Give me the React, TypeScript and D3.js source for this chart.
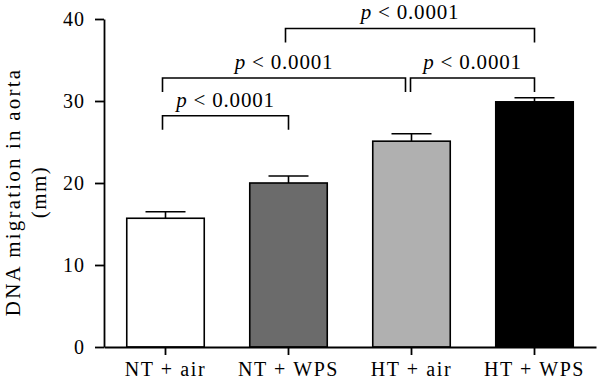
import * as d3 from 'd3';
import React, { useEffect, useRef } from 'react';

// groups, means and upper error values (mm)
const groups = ['NT + air', 'NT + WPS', 'HT + air', 'HT + WPS'];
const means = [15.7, 20.0, 25.1, 29.9];
const errors = [0.8, 0.85, 0.9, 0.5];
const fills = ['#ffffff', '#6b6b6b', '#b0b0b0', '#000000'];
const yTicks = [0, 10, 20, 30, 40];

// significance brackets: from group, to group, bracket height (axis units)
const bracketFrom = [0, 0, 2, 1];
const bracketTo = [1, 2, 3, 3];
const bracketLevel = [28.2, 32.8, 32.8, 38.85];
const bracketText = ['p < 0.0001', 'p < 0.0001', 'p < 0.0001', 'p < 0.0001'];

const W = 600, H = 384;
const margin = { top: 19, right: 4, bottom: 37, left: 104 };
const FONT = '"Liberation Serif", "Times New Roman", serif';

const App = () => {
    const chartArea = useRef<SVGSVGElement | null>(null);

    useEffect(() => {
        const svg = d3.select(chartArea.current);
        svg.selectAll('*').remove();

        const x = d3.scaleBand()
            .domain(groups)
            .range([margin.left, W - margin.right])
            .paddingInner(0.37)
            .paddingOuter(0.185);

        const y = d3.scaleLinear()
            .domain([0, 40])
            .range([H - margin.bottom, margin.top]);

        const cx = (i: number) => (x(groups[i]) as number) + x.bandwidth() / 2;

        // bars
        svg.append('g')
            .selectAll('rect')
            .data(means)
            .join('rect')
            .attr('x', (d, i) => x(groups[i]) as number)
            .attr('y', d => y(d))
            .attr('width', x.bandwidth())
            .attr('height', d => y(0) - y(d))
            .attr('fill', (d, i) => fills[i])
            .attr('stroke', '#000')
            .attr('stroke-width', 1.6);

        // error bars (upper only)
        const eb = svg.append('g').attr('stroke', '#000').attr('stroke-width', 1.6);
        means.forEach((m, i) => {
            eb.append('line')
                .attr('x1', cx(i)).attr('x2', cx(i))
                .attr('y1', y(m)).attr('y2', y(m + errors[i]));
            eb.append('line')
                .attr('x1', cx(i) - 20).attr('x2', cx(i) + 20)
                .attr('y1', y(m + errors[i])).attr('y2', y(m + errors[i]));
        });

        // y axis
        const yAxis = svg.append('g')
            .attr('transform', `translate(${margin.left},0)`)
            .call(d3.axisLeft(y).tickValues(yTicks).tickSize(9).tickPadding(10).tickSizeOuter(0));
        yAxis.selectAll('path, line').attr('stroke', '#000').attr('stroke-width', 1.8);
        yAxis.selectAll('text')
            .attr('font-family', FONT).attr('font-size', 20).attr('fill', '#000')
            .attr('letter-spacing', 1);

        // x axis
        const xAxis = svg.append('g')
            .attr('transform', `translate(0,${y(0)})`)
            .call(d3.axisBottom(x).tickSize(8).tickPadding(7).tickSizeOuter(0));
        xAxis.selectAll('path, line').attr('stroke', '#000').attr('stroke-width', 1.8);
        xAxis.selectAll('text')
            .attr('font-family', FONT).attr('font-size', 20).attr('fill', '#000')
            .attr('letter-spacing', 1.6);

        // y label
        const yl = svg.append('text')
            .attr('transform', `translate(20,${(y(0) + y(40)) / 2 + 9}) rotate(-90)`)
            .attr('text-anchor', 'middle')
            .attr('font-family', FONT).attr('font-size', 21)
            .attr('letter-spacing', 2.2);
        yl.append('tspan').attr('x', 0).attr('dy', 0).text('DNA migration in aorta');
        yl.append('tspan').attr('x', 0).attr('dy', 26).attr('letter-spacing', 1.5).text('(mm)');

        // brackets
        const br = svg.append('g');
        bracketFrom.forEach((f, k) => {
            const t = bracketTo[k];
            const x1 = cx(f) - 3 + (k === 2 ? 2 : 0);
            const x2 = cx(t) - (k === 1 ? 6 : 0);
            const yy = y(bracketLevel[k]);
            br.append('path')
                .attr('d', `M${x1},${yy + 14}V${yy}H${x2}V${yy + 14}`)
                .attr('fill', 'none')
                .attr('stroke', '#000')
                .attr('stroke-width', 1.6);
            const parts = bracketText[k].split(' ');
            const lbl = br.append('text')
                .attr('x', (x1 + x2) / 2)
                .attr('y', yy - 9)
                .attr('text-anchor', 'middle')
                .attr('font-family', FONT).attr('font-size', 21)
                .attr('letter-spacing', 0.8);
            lbl.append('tspan').attr('font-style', 'italic').text(parts[0]);
            lbl.append('tspan').text(' ' + parts.slice(1).join(' '));
        });
    }, []);

    return <svg
        ref={chartArea}
        width={W}
        height={H}
        style={{ position: 'absolute', left: 0, top: 0, background: '#fff' }}
    />;
};

export default App;
